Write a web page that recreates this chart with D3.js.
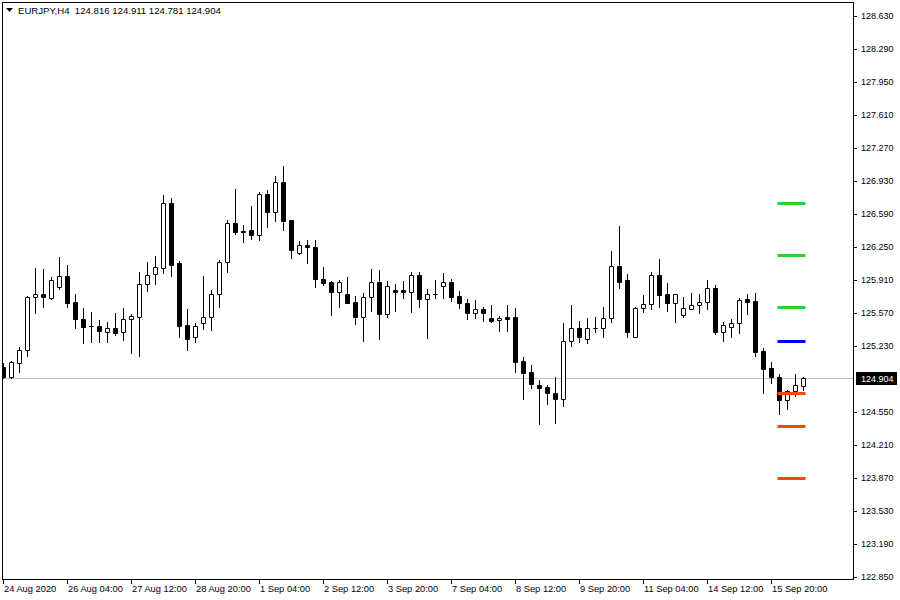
<!DOCTYPE html>
<html>
<head>
<meta charset="utf-8">
<script src="https://cdn.jsdelivr.net/npm/d3@7/dist/d3.min.js"></script>
<style>
  html, body { margin: 0; padding: 0; background: #fff; }
  svg { display: block; }
  text { font-family: "Liberation Sans", Arial, sans-serif; }
</style>
</head>
<body>
<svg id="chart" width="900" height="600"></svg>
<script>
// ---- data ----
const symbol = "EURJPY,H4";
const opens = [125.014,124.911,125.055,125.189,125.735,125.766,125.725,125.838,125.951,125.684,
  125.508,125.438,125.436,125.374,125.416,125.374,125.508,125.529,125.869,125.972,
  126.034,126.704,126.085,125.447,125.323,125.467,125.529,125.766,126.096,126.497,
  126.415,126.425,126.374,126.796,126.611,126.920,126.528,126.188,126.271,126.250,
  125.921,125.890,125.787,125.766,125.684,125.529,125.735,125.890,125.560,125.807,
  125.807,125.787,125.962,125.714,125.768,125.848,125.890,125.745,125.673,125.570,
  125.611,125.519,125.498,125.529,125.529,125.076,124.962,124.828,124.808,124.746,
  124.684,125.282,125.416,125.302,125.414,125.416,125.519,126.054,125.910,125.323,
  125.622,125.663,125.962,125.766,125.673,125.550,125.611,125.653,125.684,125.828,
  125.374,125.426,125.467,125.714,125.694,125.179,125.004,124.911,124.674,124.767,
  124.816];
const highs = [125.055,125.076,125.220,125.745,126.034,126.024,125.941,126.147,126.065,125.766,
  125.622,125.581,125.498,125.477,125.570,125.622,125.560,125.993,126.096,126.157,
  126.786,126.755,126.106,125.611,125.467,125.951,125.807,126.116,126.528,126.848,
  126.477,126.673,126.817,126.837,126.982,127.085,126.530,126.312,126.322,126.322,
  126.044,125.900,125.910,125.941,125.745,125.776,126.024,126.013,125.900,125.869,
  125.900,125.993,125.993,125.818,125.910,125.982,125.921,125.797,125.714,125.704,
  125.632,125.653,125.539,125.653,125.622,125.117,125.034,124.880,124.828,124.911,
  125.467,125.653,125.488,125.519,125.529,125.632,126.209,126.467,125.972,125.632,
  125.756,125.993,126.127,125.879,125.768,125.735,125.776,125.766,125.910,125.859,
  125.477,125.508,125.725,125.766,125.776,125.210,125.065,124.942,124.777,124.942,
  124.911];
const lows = [124.901,124.901,124.962,125.127,125.570,125.632,125.714,125.818,125.632,125.416,
  125.261,125.271,125.271,125.271,125.344,125.292,125.158,125.127,125.797,125.869,
  125.982,125.951,125.323,125.189,125.271,125.405,125.395,125.632,125.993,126.384,
  126.302,126.333,126.322,126.456,126.518,126.425,126.137,126.178,126.085,125.838,
  125.859,125.550,125.632,125.670,125.457,125.282,125.591,125.302,125.529,125.591,
  125.725,125.581,125.632,125.313,125.725,125.725,125.694,125.622,125.508,125.519,
  125.488,125.477,125.385,125.385,124.962,124.684,124.797,124.427,124.633,124.437,
  124.612,125.230,125.271,125.261,125.374,125.323,125.477,125.828,125.323,125.320,
  125.581,125.611,125.632,125.591,125.477,125.529,125.609,125.570,125.611,125.354,
  125.282,125.323,125.364,125.560,125.127,124.746,124.849,124.530,124.581,124.715,
  124.781];
const closes = [124.911,125.065,125.189,125.735,125.766,125.735,125.910,125.951,125.673,125.508,
  125.426,125.434,125.385,125.416,125.364,125.508,125.539,125.869,125.962,126.044,
  126.704,126.065,125.436,125.302,125.436,125.529,125.766,126.096,126.497,126.405,
  126.405,126.374,126.796,126.611,126.920,126.518,126.219,126.271,126.250,125.921,
  125.879,125.787,125.890,125.673,125.529,125.735,125.890,125.560,125.848,125.787,
  125.787,125.962,125.714,125.766,125.764,125.890,125.735,125.673,125.570,125.611,
  125.570,125.488,125.519,125.508,125.065,124.952,124.839,124.797,124.746,124.684,
  125.282,125.416,125.323,125.416,125.418,125.519,126.054,125.890,125.374,125.622,
  125.663,125.962,125.756,125.673,125.766,125.622,125.653,125.684,125.828,125.374,
  125.447,125.467,125.704,125.684,125.168,124.993,124.911,124.674,124.767,124.828,
  124.904];
const timeTickIndex = [0,8,16,24,32,40,48,56,64,72,80,88,96];
const timeTickLabels = ["24 Aug 2020","26 Aug 04:00","27 Aug 12:00","28 Aug 20:00","1 Sep 04:00",
  "2 Sep 12:00","3 Sep 20:00","7 Sep 04:00","8 Sep 12:00","9 Sep 20:00","11 Sep 04:00",
  "14 Sep 12:00","15 Sep 20:00"];
const priceTicks = [128.630,128.290,127.950,127.610,127.270,126.930,126.590,126.250,125.910,
  125.570,125.230,124.550,124.210,123.870,123.530,123.190,122.850];
const levelValues = [126.700,126.165,125.629,125.279,124.743,124.406,123.870];
const levelColors = ["#32cd32","#32cd32","#32cd32","#0000ff","#ff4500","#ff4500","#ff4500"];
const levelFromBar = 97, levelToBar = 100;

// ---- layout ----
const svg = d3.select("#chart");
const pLeft = 2, pTop = 2, pRight = 853, pBottom = 579;
const n = opens.length;
const x = d3.scaleLinear().domain([0, 100]).range([3, 803]);
const y = d3.scaleLinear().domain([122.85, 128.63]).range([577, 16]);
const fmt = d3.format(".3f");

svg.append("rect").attr("width", 900).attr("height", 600).attr("fill", "#fff");

svg.append("clipPath").attr("id", "plotclip").append("rect")
  .attr("x", pLeft + 1).attr("y", pTop + 1).attr("width", pRight - pLeft - 1).attr("height", pBottom - pTop - 1);
const plot = svg.append("g").attr("clip-path", "url(#plotclip)");

const lastClose = closes[n - 1];
// current price line
plot.append("line")
  .attr("x1", pLeft).attr("x2", pRight)
  .attr("y1", Math.round(y(lastClose)) + 0.5).attr("y2", Math.round(y(lastClose)) + 0.5)
  .attr("stroke", "#c0c0c0").attr("stroke-width", 1);

// candles
const bars = d3.range(n).map(i => ({i, o: opens[i], h: highs[i], l: lows[i], c: closes[i]}));
const g = plot.selectAll("g.bar").data(bars).join("g").attr("class", "bar");
g.append("rect")
  .attr("x", d => Math.round(x(d.i)))
  .attr("width", 1)
  .attr("y", d => Math.round(y(d.h)))
  .attr("height", d => Math.round(y(d.l)) - Math.round(y(d.h)) + 1)
  .attr("fill", "#000");
g.append("path")
  .attr("d", d => {
    const cx = Math.round(x(d.i));
    const t = Math.round(y(Math.max(d.o, d.c)));
    const b = Math.round(y(Math.min(d.o, d.c)));
    return `M${cx - 1.5},${t + 0.5}h4v${b - t}h-4Z`;
  })
  .attr("fill", d => d.c >= d.o ? "#fff" : "#000")
  .attr("stroke", "#000").attr("stroke-width", 1);

// levels
plot.selectAll("line.level").data(levelValues).join("line")
  .attr("class", "level")
  .attr("x1", x(levelFromBar) - 1.5).attr("x2", x(levelToBar) + 2.5)
  .attr("y1", d => Math.round(y(d)) + 0.5).attr("y2", d => Math.round(y(d)) + 0.5)
  .attr("stroke", (d, i) => levelColors[i]).attr("stroke-width", 3);

// frame
svg.append("rect")
  .attr("x", pLeft + 0.5).attr("y", pTop + 0.5)
  .attr("width", pRight - pLeft).attr("height", pBottom - pTop)
  .attr("fill", "none").attr("stroke", "#000").attr("stroke-width", 1);

// price axis
const pa = svg.append("g");
pa.selectAll("line").data(priceTicks).join("line")
  .attr("x1", pRight).attr("x2", pRight + 4)
  .attr("y1", d => Math.round(y(d)) + 0.5).attr("y2", d => Math.round(y(d)) + 0.5)
  .attr("stroke", "#000");
pa.selectAll("text").data(priceTicks).join("text")
  .attr("x", 861).attr("y", d => y(d) + 3)
  .attr("font-size", 9).attr("fill", "#000")
  .text(d => fmt(d));
// current price label
const cy = Math.round(y(lastClose));
svg.append("rect").attr("x", 856).attr("y", cy - 6).attr("width", 41).attr("height", 13).attr("fill", "#000");
svg.append("text").attr("x", 861).attr("y", cy + 4).attr("font-size", 9).attr("fill", "#fff").text(fmt(lastClose));

// time axis
const ta = svg.append("g");
ta.selectAll("line").data(timeTickIndex).join("line")
  .attr("x1", d => Math.round(x(d)) + 0.5).attr("x2", d => Math.round(x(d)) + 0.5)
  .attr("y1", pBottom).attr("y2", pBottom + 5)
  .attr("stroke", "#000");
ta.selectAll("text").data(timeTickIndex).join("text")
  .attr("x", d => Math.round(x(d)) + 1).attr("y", 592)
  .attr("font-size", 9.3).attr("fill", "#000")
  .text((d, i) => timeTickLabels[i]);

// header
svg.append("path").attr("d", "M6,8 L13,8 L9.5,12 Z").attr("fill", "#000");
svg.append("text").attr("x", 18).attr("y", 14).attr("font-size", 9.6).attr("fill", "#000")
  .attr("xml:space", "preserve")
  .text(`${symbol}  ${fmt(opens[n-1])} ${fmt(highs[n-1])} ${fmt(lows[n-1])} ${fmt(closes[n-1])}`);
</script>
</body>
</html>
